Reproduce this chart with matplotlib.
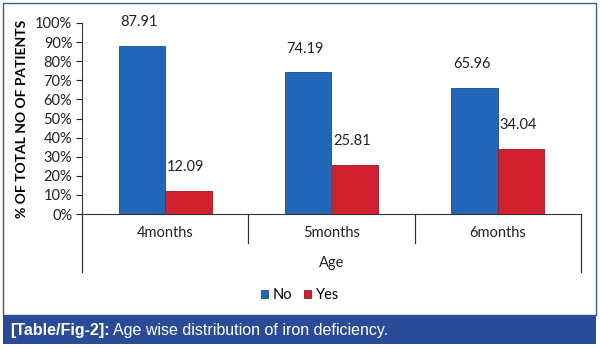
"""Age wise distribution of iron deficiency."""

import numpy as np
import matplotlib.pyplot as plt
from matplotlib.patches import Rectangle
from matplotlib.lines import Line2D
from matplotlib.ticker import PercentFormatter

categories = ["4months", "5months", "6months"]
no_values = [87.91, 74.19, 65.96]
yes_values = [12.09, 25.81, 34.04]
y_ticks = [0, 10, 20, 30, 40, 50, 60, 70, 80, 90, 100]

blue = "#2166B8"
red = "#D2202F"
band = "#2A4C98"

plt.rcParams["font.family"] = ["Lato", "DejaVu Sans"]

fig = plt.figure(figsize=(6.0, 3.48), dpi=100)
W, H = 600, 348

# outer frame and caption band (figure pixel coords)
fig.patches.append(Rectangle((3 / W, 1 - 315 / H), 593 / W, 312 / H,
                             transform=fig.transFigure, fill=False,
                             edgecolor="#3B5A8E", linewidth=1.0))
fig.patches.append(Rectangle((3 / W, 1 - 344 / H), 593 / W, 29 / H,
                             transform=fig.transFigure, facecolor=band,
                             edgecolor="none"))
fig.text(10 / W, 1 - 330 / H, "[Table/Fig-2]:", color="white",
         fontsize=11.5, fontweight="bold", va="center",
         family=["Liberation Sans Narrow", "Liberation Sans"])
fig.text(113 / W, 1 - 330 / H, "Age wise distribution of iron deficiency.",
         color="white", fontsize=11.5, va="center",
         family=["Liberation Sans Narrow", "Liberation Sans"])

# axes area: x 82..581, y 23..214
ax = fig.add_axes([82 / W, 1 - 214 / H, 499 / W, 191 / H])

x = np.arange(len(categories))
width = 0.28
b1 = ax.bar(x - width / 2, no_values, width, color=blue,
            edgecolor="#174C8C", linewidth=0.6, label="No")
b2 = ax.bar(x + width / 2, yes_values, width, color=red,
            edgecolor="#9E1622", linewidth=0.6, label="Yes")

for bars, vals in ((b1, no_values), (b2, yes_values)):
    for rect, v in zip(bars, vals):
        ax.annotate(f"{v:.2f}", (rect.get_x() + rect.get_width() / 2, v),
                    xytext=(-2, 12), textcoords="offset points",
                    ha="center", va="bottom", fontsize=10.5, color="#222222")

ax.set_xlim(-0.5, len(categories) - 0.5)
ax.set_ylim(0, 100)
ax.set_yticks(y_ticks)
ax.yaxis.set_major_formatter(PercentFormatter(decimals=0))
ax.tick_params(axis="y", labelsize=10.5, length=4, width=0.8,
               colors="#222222", pad=3)
ax.set_xticks([])

for s in ("top", "right"):
    ax.spines[s].set_visible(False)
ax.spines["left"].set_linewidth(0.8)
ax.spines["bottom"].set_linewidth(0.8)
ax.spines["left"].set_color("#333333")
ax.spines["bottom"].set_color("#333333")

ax.set_ylabel("% OF TOTAL NO OF PATIENTS", fontsize=10, fontweight="bold",
              labelpad=5)

# category dividers and labels below axis
trans = ax.get_xaxis_transform()
for i, cat in enumerate(categories):
    ax.text(i, -19 / 191, cat, transform=trans, ha="center", va="center",
            fontsize=10.5, color="#222222")
for xb in (0.5, 1.5):
    ax.add_line(Line2D([xb, xb], [0, -29 / 191], transform=trans,
                       color="#333333", linewidth=0.9, clip_on=False))
for xb in (-0.5, len(categories) - 0.5):
    ax.add_line(Line2D([xb, xb], [0, -58 / 191], transform=trans,
                       color="#333333", linewidth=0.9, clip_on=False))
ax.text(1, -49 / 191, "Age", transform=trans, ha="center", va="center",
        fontsize=10.5, color="#222222")

fig.legend(handles=[b1, b2], labels=["No", "Yes"], loc="center",
           bbox_to_anchor=(300 / W, 1 - 295 / H), ncol=2, frameon=False,
           fontsize=10.5, handlelength=0.5, handleheight=0.5,
           handletextpad=0.3, columnspacing=0.8)

fig.savefig("out.png", dpi=100, facecolor="white")
